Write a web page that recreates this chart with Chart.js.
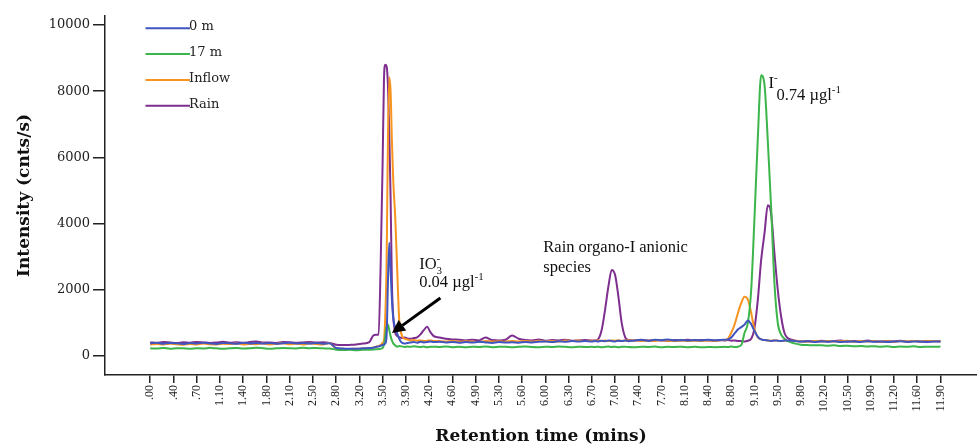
<!DOCTYPE html>
<html><head><meta charset="utf-8">
<script src="https://cdn.jsdelivr.net/npm/chart.js@4"></script>
<style>html,body{margin:0;padding:0;background:#fff}#wrap{position:relative;width:977px;height:447px}</style>
</head><body><div id="wrap"><canvas id="c" width="977" height="447"></canvas></div>
<script>
// ---- data ----
const SERIES_NAMES = ['0 m', '17 m', 'Inflow', 'Rain'];
const TIMES = [
  0.0,0.1,0.2,0.3,0.4,0.5,0.6,0.7,0.8,0.9,1.0,1.1,1.2,1.3,1.4,1.5,1.6,1.7,1.8,1.9,2.0,2.1,2.2,2.3,2.4,2.5,2.6,2.7,2.8,2.9,3.0,3.1,3.2,3.3,
  3.36,3.40,3.44,3.47,3.50,3.52,3.54,3.56,3.58,3.60,3.62,3.64,3.66,3.69,3.72,3.75,3.79,3.83,3.87,3.92,3.97,4.02,4.07,4.12,4.17,4.22,4.27,
  4.35,4.45,4.55,4.65,4.75,4.85,4.95,5.05,5.15,5.25,5.35,5.45,5.55,5.65,5.75,5.85,5.95,6.05,6.15,6.25,6.35,6.45,6.55,6.65,
  6.70,6.75,6.80,6.85,6.90,6.95,7.00,7.05,7.10,7.15,7.20,
  7.3,7.4,7.5,7.6,7.7,7.8,7.9,8.0,8.1,8.2,8.3,8.4,8.5,8.6,
  8.65,8.70,8.75,8.80,8.85,8.90,8.95,9.00,9.05,9.10,9.15,9.20,9.25,9.30,9.35,9.40,9.45,9.50,9.55,9.60,
  9.7,9.8,9.9,10.0,10.1,10.2,10.3,10.4,10.5,10.6,10.7,10.8,10.9,11.0,11.1,11.2,11.3,11.4,11.5,11.6,11.7,11.8,11.9
];
const VALUES_0M = [
  380,400,370,395,385,360,390,375,400,380,365,395,385,370,400,380,390,375,395,370,385,400,375,390,380,395,370,385,240,225,215,220,230,240,
  250,270,290,310,330,350,380,600,2200,3420,2600,1700,1150,850,680,520,400,380,390,410,420,400,430,410,420,440,420,
  430,410,425,400,420,405,430,410,395,420,405,415,400,425,410,430,440,420,445,430,450,435,455,440,
  450,440,460,445,465,450,440,460,450,465,445,
  470,485,460,490,475,500,470,485,465,480,470,490,475,485,
  490,500,560,680,800,870,950,1070,960,750,580,500,480,470,455,470,460,450,465,470,
  455,435,445,425,440,430,445,420,440,435,425,445,430,440,420,435,445,425,440,430,420,440,430
];
const VALUES_17M = [
  230,225,240,220,235,230,215,235,225,245,230,220,235,240,225,230,245,235,220,230,240,235,225,250,235,240,230,225,190,180,185,175,185,190,
  195,200,210,220,240,330,600,900,950,780,600,470,380,320,280,300,290,270,285,275,290,280,270,285,260,275,280,
  270,285,265,275,260,280,270,285,265,275,280,260,275,285,270,265,280,270,285,275,265,280,270,275,
  270,280,265,275,285,270,280,265,275,280,270,
  265,280,270,285,260,275,270,280,265,275,260,270,265,270,
  275,270,285,270,280,330,700,1000,2000,4200,6600,8480,8200,6500,4500,2200,1000,650,520,450,
  380,340,330,320,325,310,320,300,310,290,300,285,295,280,290,270,285,275,290,270,280,275,285
];
const VALUES_INFLOW = [
  350,365,345,370,355,340,365,350,375,355,345,370,360,380,350,365,355,375,350,365,385,355,370,345,375,360,350,390,230,215,210,220,215,230,
  260,280,300,330,400,480,1200,2800,6500,8420,8000,6500,5300,4200,2600,1100,620,520,500,470,480,460,470,450,460,470,455,
  450,440,455,430,445,440,425,450,435,445,430,455,440,450,435,460,445,455,440,465,450,470,455,460,
  460,470,455,465,450,470,460,475,455,465,470,
  465,450,470,455,475,460,450,470,455,465,450,470,460,480,
  480,520,700,950,1300,1600,1790,1700,1300,800,560,500,480,470,460,470,460,450,465,455,
  460,445,430,450,440,455,435,445,460,430,450,440,455,435,445,430,450,440,455,435,445,450,440
];
const VALUES_RAIN = [
  410,395,420,405,390,415,400,425,410,395,405,430,400,415,395,420,440,405,410,395,425,415,400,410,420,405,415,395,340,330,335,345,375,420,
  620,640,640,2700,5800,8300,8800,8750,8200,6800,4800,2200,1200,700,600,570,540,560,530,520,540,560,650,780,880,720,600,
  560,520,500,490,470,490,470,560,480,470,490,620,520,480,470,500,460,480,470,490,460,470,480,470,
  470,520,800,1400,2100,2600,2450,1800,1000,580,480,
  470,490,460,480,470,455,480,470,490,465,480,470,460,475,
  470,480,460,470,455,450,440,460,520,850,1700,2900,3700,4550,4300,3100,2000,1200,700,540,
  470,440,455,430,460,440,450,470,430,455,440,465,445,430,455,440,460,435,450,440,455,445,450
];
const X_TICK_LABELS = ['.00','.40','.70','1.10','1.40','1.80','2.10','2.50','2.80','3.20','3.50','3.90','4.20','4.60','4.90','5.30','5.60','6.00','6.30','6.70','7.00','7.40','7.70','8.10','8.40','8.80','9.10','9.50','9.80','10.20','10.50','10.90','11.20','11.60','11.90'];
const X_TICK_STEP = 0.35;
const Y_TICKS = [0, 2000, 4000, 6000, 8000, 10000];

// ---- styling / layout ----
const COLORS = ['#3F56C0', '#3CB54A', '#F7931E', '#7D2E8E'];
const SERIES_VALUES = [VALUES_0M, VALUES_17M, VALUES_INFLOW, VALUES_RAIN];
const TEXT_LABELS = [
  {t: 4.05, v: 2630, parts: [{s: 'IO'}, {s: '3', sub: true, stack: true}, {s: '-', sup: true}]},
  {t: 4.05, v: 2085, parts: [{s: '0.04 µgl'}, {s: '-1', sup: true}]},
  {t: 5.92, v: 3140, parts: [{s: 'Rain organo-I anionic'}]},
  {t: 5.92, v: 2540, parts: [{s: 'species'}]},
  {t: 9.31, v: 8100, parts: [{s: 'I'}, {s: '-', sup: true}]},
  {t: 9.43, v: 7734, parts: [{s: '0.74 µgl'}, {s: '-1', sup: true}]}
];
const ARROW = {from: {t: 4.37, v: 1752}, to: {t: 3.64, v: 695}};

function drawRich(ctx, x, y, parts, size) {
  let cx = x;
  for (const p of parts) {
    const small = p.sub || p.sup;
    ctx.font = (small ? Math.round(size * 0.68) : size) + 'px "Liberation Serif"';
    const dy = p.sub ? size * 0.28 : (p.sup ? -size * 0.42 : 0);
    ctx.fillText(p.s, cx, y + dy);
    if (!p.stack) cx += ctx.measureText(p.s).width;
  }
}

const overlay = {
  id: 'overlay',
  afterDatasetsDraw(chart) {
    const {ctx, chartArea: a, scales: {x, y}} = chart;
    ctx.save();
    // legend
    chart.data.datasets.forEach((ds, i) => {
      const yy = a.top + 12.3 + i * 25.8;
      ctx.strokeStyle = ds.borderColor; ctx.lineWidth = 2;
      ctx.beginPath(); ctx.moveTo(a.left + 40.5, yy); ctx.lineTo(a.left + 85, yy); ctx.stroke();
      ctx.fillStyle = '#222'; ctx.font = '13px "DejaVu Serif"';
      ctx.textBaseline = 'middle'; ctx.textAlign = 'left';
      ctx.fillText(ds.label, a.left + 84, yy - 1.5);
    });
    // text annotations
    ctx.fillStyle = '#111'; ctx.textBaseline = 'alphabetic'; ctx.textAlign = 'left';
    TEXT_LABELS.forEach(l => drawRich(ctx, x.getPixelForValue(l.t), y.getPixelForValue(l.v), l.parts, 16.5));
    // arrow
    const x1 = x.getPixelForValue(ARROW.from.t), y1 = y.getPixelForValue(ARROW.from.v);
    const x2 = x.getPixelForValue(ARROW.to.t), y2 = y.getPixelForValue(ARROW.to.v);
    const ang = Math.atan2(y2 - y1, x2 - x1);
    const hl = 13, hw = 6.5;
    const bx = x2 - hl * Math.cos(ang), by = y2 - hl * Math.sin(ang);
    ctx.strokeStyle = '#000'; ctx.lineWidth = 3;
    ctx.beginPath(); ctx.moveTo(x1, y1); ctx.lineTo(bx, by); ctx.stroke();
    ctx.fillStyle = '#000';
    ctx.beginPath();
    ctx.moveTo(x2, y2);
    ctx.lineTo(bx + hw * Math.sin(ang), by - hw * Math.cos(ang));
    ctx.lineTo(bx - hw * Math.sin(ang), by + hw * Math.cos(ang));
    ctx.closePath(); ctx.fill();
    ctx.restore();
  }
};

const datasets = SERIES_NAMES.map((name, i) => ({
  label: name,
  data: TIMES.map((t, k) => ({x: t, y: SERIES_VALUES[i][k]})),
  borderColor: COLORS[i],
  backgroundColor: COLORS[i],
  borderWidth: 2,
  pointRadius: 0,
  cubicInterpolationMode: 'monotone',
  fill: false
}));

new Chart(document.getElementById('c'), {
  type: 'line',
  data: {datasets},
  options: {
    responsive: false,
    animation: false,
    devicePixelRatio: 1,
    layout: {padding: {top: 16, left: 0, right: 0, bottom: 0}},
    plugins: {legend: {display: false}, tooltip: {enabled: false}},
    scales: {
      x: {
        type: 'linear',
        min: -0.68, max: 12.45,
        afterBuildTicks: axis => { axis.ticks = X_TICK_LABELS.map((l, i) => ({value: i * X_TICK_STEP})); },
        afterFit: axis => { axis.height = 72; },
        ticks: {
          autoSkip: false, maxRotation: 90, minRotation: 90, padding: 2,
          color: '#222', font: {family: '"Liberation Serif"', size: 12},
          callback: (v, i) => X_TICK_LABELS[i]
        },
        grid: {display: true, drawOnChartArea: false, drawTicks: true, tickLength: 8, color: '#222', lineWidth: 1.5},
        border: {display: true, color: '#222', width: 1.5},
        title: {display: true, text: 'Retention time (mins)', color: '#111',
          font: {family: '"DejaVu Serif"', size: 17, weight: 'bold'}, padding: {top: 0, bottom: 0}}
      },
      y: {
        type: 'linear',
        min: -575, max: 10270,
        afterBuildTicks: axis => { axis.ticks = Y_TICKS.map(v => ({value: v})); },
        afterFit: axis => { axis.width = 105; },
        ticks: {padding: 3, color: '#222', font: {family: '"DejaVu Serif"', size: 13}, callback: v => String(v)},
        grid: {display: true, drawOnChartArea: false, drawTicks: true, tickLength: 12, color: '#222', lineWidth: 1.5},
        border: {display: true, color: '#222', width: 1.5},
        title: {display: true, text: 'Intensity (cnts/s)', color: '#111',
          font: {family: '"DejaVu Serif"', size: 17, weight: 'bold'}, padding: {top: 14, bottom: 0}}
      }
    }
  },
  plugins: [overlay]
});
</script>
</body></html>
